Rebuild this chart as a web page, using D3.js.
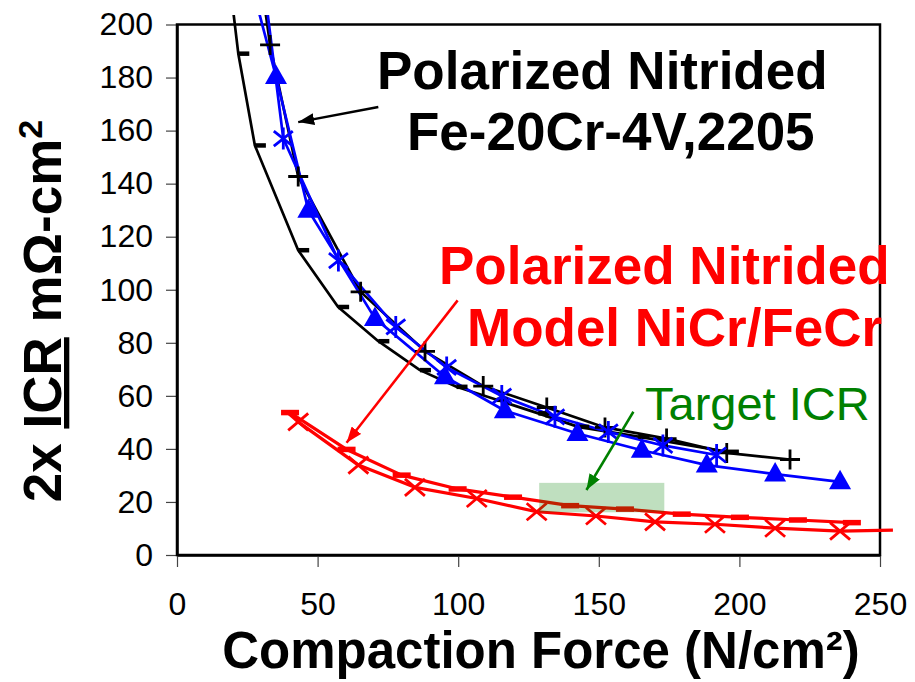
<!DOCTYPE html>
<html>
<head>
<meta charset="utf-8">
<script src="https://cdn.jsdelivr.net/npm/d3@7"></script>
<style>
  body { margin: 0; background: #fff; }
  svg { display: block; font-family: "Liberation Sans", Arial, sans-serif; }
</style>
</head>
<body>
<div id="chart-area"></div>
<script>
// values: x = compaction force (N/cm2), y = 2x ICR (mOhm-cm2)
const xTicks = [0, 50, 100, 150, 200, 250]
const yTicks = [0, 20, 40, 60, 80, 100, 120, 140, 160, 180, 200]

// Fe-20Cr-4V / 2205, black "+" and black "-"
const blackPlusX = [33.1, 43.1, 65.3, 88.2, 108.9, 131.5, 152.2, 174.1, 195.5, 218]
const blackPlusY = [192.3, 142.7, 99.2, 76.8, 63.7, 55.6, 48.1, 43.9, 38.5, 36]
const blackPlusTop = [28.4, 228]

const blackDashX = [21.8, 27.7, 43.1, 57.3, 71.6, 86.4, 99.4, 113.7, 128.5, 142.7, 164, 195.9]
const blackDashY = [189, 154.4, 114.9, 93.5, 80.6, 69.7, 63.4, 58.5, 53.4, 48.3, 44.6, 38.9]
const blackDashTop = [18.7, 216.6]

// blue triangles and blue asterisks
const blueTriX = [35.2, 46.7, 70.4, 95.3, 116.6, 142.4, 165.3, 188.4, 212.7, 235.8]
const blueTriY = [180.4, 130, 89.2, 67.2, 54.4, 45.8, 39.5, 33.9, 30.5, 27.6]
const blueTriTop = [23.3, 228]

const blueStarX = [37.8, 57.4, 77.8, 95.9, 115.5, 134.4, 153.4, 172.8, 191.9]
const blueStarY = [157, 111, 86, 70.7, 59.9, 52.1, 46.4, 41.3, 37.7]
const blueStarTop = [29.4, 228]

// model NiCr / FeCr, red "-" and red "x"
const redDashX = [40.2, 60.3, 79.9, 99.8, 119.5, 139.8, 159.3, 179.5, 200.2, 220.8, 240]
const redDashY = [53.7, 39.8, 30.1, 24.9, 21.8, 18.6, 17.3, 15.4, 14.2, 13.2, 12.2]

const redCrossX = [43.1, 64.5, 84.6, 106.6, 127.9, 149, 170, 191.3, 212.7, 235.8]
const redCrossY = [50.2, 33.9, 25.5, 21.3, 16.3, 14.7, 12.5, 11.6, 10.1, 9.0]
const redCrossStart = [40.2, 53.7]
const redCrossEnd = [254.6, 9.4]

// target ICR band
const targetX = [128.8, 173.3]
const targetY = [16.1, 27.2]

// arrows [x1, y1, x2(tip), y2(tip)]
const blackArrow = [71.6, 168.9, 43.1, 163.2]
const redArrow = [99.8, 96.0, 60.3, 42.3]
const greenArrow = [162.3, 54.0, 145.6, 24.5]

const zip = (xs, ys) => xs.map((x, i) => [x, ys[i]])

const margin = { left: 177, top: 24.5, right: 35, bottom: 127 }
const width = 915 - margin.left - margin.right
const height = 682 - margin.top - margin.bottom

const svg = d3.select('#chart-area').append('svg')
  .attr('width', 915)
  .attr('height', 682)

const defs = svg.append('defs')
defs.append('clipPath').attr('id', 'clip')
  .append('rect')
  .attr('x', -margin.left)
  .attr('y', 15 - margin.top)
  .attr('width', 915)
  .attr('height', 700)

const arrowColors = { black: '#000', red: '#ff0000', green: '#008000' }
Object.entries(arrowColors).forEach(([k, c]) => {
  defs.append('marker')
    .attr('id', 'head-' + k)
    .attr('viewBox', '0 -6 16 12')
    .attr('refX', 16)
    .attr('refY', 0)
    .attr('markerWidth', 16)
    .attr('markerHeight', 12)
    .attr('markerUnits', 'userSpaceOnUse')
    .attr('orient', 'auto')
    .append('path')
    .attr('d', 'M0,-6L16,0L0,6Z')
    .attr('fill', c)
})

const g = svg.append('g')
  .attr('transform', `translate(${margin.left},${margin.top})`)

const x = d3.scaleLinear().domain([0, 250]).range([0, width])
const y = d3.scaleLinear().domain([0, 200]).range([height, 0])

// axes
const xAxis = g.append('g')
  .attr('class', 'x-axis')
  .attr('transform', `translate(0, ${height})`)
  .call(d3.axisBottom(x).tickValues(xTicks).tickSize(12).tickSizeOuter(0))
xAxis.selectAll('text')
  .attr('y', 37)
  .attr('font-size', '32px')
  .attr('font-family', '"Liberation Sans", Arial, sans-serif')
  .attr('fill', '#000')

const yAxis = g.append('g')
  .attr('class', 'y-axis')
  .call(d3.axisLeft(y).tickValues(yTicks).tickSize(11).tickPadding(13).tickSizeOuter(0))
yAxis.selectAll('text')
  .attr('font-size', '32px')
  .attr('font-family', '"Liberation Sans", Arial, sans-serif')
  .attr('fill', '#000')

g.selectAll('.tick line').attr('stroke', '#444').attr('stroke-width', 1.2)
g.selectAll('.domain').attr('stroke', '#000').attr('stroke-width', 2.5)

// plot frame
g.append('rect')
  .attr('width', width)
  .attr('height', height)
  .attr('fill', 'none')
  .attr('stroke', '#000')
  .attr('stroke-width', 2.5)

const plot = g.append('g').attr('clip-path', 'url(#clip)')
const line = d3.line().x(d => x(d[0])).y(d => y(d[1]))

const drawLine = (pts, color, w) => {
  plot.append('path')
    .datum(pts)
    .attr('d', line)
    .attr('fill', 'none')
    .attr('stroke', color)
    .attr('stroke-width', w)
    .attr('stroke-linejoin', 'round')
}

drawLine([blackDashTop].concat(zip(blackDashX, blackDashY)), '#000', 2.7)
drawLine([blackPlusTop].concat(zip(blackPlusX, blackPlusY)), '#000', 2.7)
drawLine([blueTriTop].concat(zip(blueTriX, blueTriY)), '#0000ff', 2.7)
drawLine([blueStarTop].concat(zip(blueStarX, blueStarY)), '#0000ff', 2.7)
drawLine(zip(redDashX, redDashY), '#ff0000', 3.2)
drawLine([redCrossStart].concat(zip(redCrossX, redCrossY), [redCrossEnd]), '#ff0000', 3.2)

// markers
const drawSymbols = (pts, d, color, filled) => {
  plot.append('g').selectAll('path')
    .data(pts)
    .enter()
    .append('path')
    .attr('transform', p => `translate(${x(p[0])},${y(p[1])})`)
    .attr('d', d)
    .attr('fill', filled ? color : 'none')
    .attr('stroke', color)
    .attr('stroke-width', filled ? 0 : 2.8)
}

const drawDashes = (pts, color, w, h, dx) => {
  plot.append('g').selectAll('rect')
    .data(pts)
    .enter()
    .append('rect')
    .attr('x', p => x(p[0]) + dx)
    .attr('y', p => y(p[1]) - h / 2)
    .attr('width', w)
    .attr('height', h)
    .attr('fill', color)
}

drawDashes(zip(blackDashX, blackDashY), '#000', 11, 4.5, 0)
drawSymbols(zip(blackPlusX, blackPlusY), 'M-10,0H10M0,-10V10', '#000', false)
drawSymbols(zip(blueTriX, blueTriY), 'M0,-12L11,7.5H-11Z', '#0000ff', true)
drawSymbols(zip(blueStarX, blueStarY), 'M-9.5,-7.5L9.5,7.5M-9.5,7.5L9.5,-7.5M0,-11V11', '#0000ff', false)
drawDashes(zip(redDashX, redDashY), '#ff0000', 18, 5.5, -9)
drawSymbols(zip(redCrossX, redCrossY), 'M-10,-8.5L10,8.5M-10,8.5L10,-8.5', '#ff0000', false)

// target band, drawn over the red curves
g.append('rect')
  .attr('x', x(targetX[0]))
  .attr('y', y(targetY[1]))
  .attr('width', x(targetX[1]) - x(targetX[0]))
  .attr('height', y(targetY[0]) - y(targetY[1]))
  .attr('fill', '#008000')
  .attr('opacity', 0.25)

// arrows
const drawArrow = (a, color, key, w) => {
  g.append('line')
    .attr('x1', x(a[0])).attr('y1', y(a[1]))
    .attr('x2', x(a[2])).attr('y2', y(a[3]))
    .attr('stroke', color)
    .attr('stroke-width', w)
    .attr('marker-end', `url(#head-${key})`)
}
drawArrow(blackArrow, '#000', 'black', 2.5)
drawArrow(redArrow, '#ff0000', 'red', 2.5)
drawArrow(greenArrow, '#008000', 'green', 2.5)

// annotations
const note = (txt, px, py, color, weight, size) => {
  svg.append('text')
    .attr('x', px)
    .attr('y', py)
    .attr('fill', color)
    .attr('font-weight', weight)
    .attr('font-size', size)
    .text(txt)
}
note('Polarized Nitrided', 377, 89, '#000', 'bold', '53px')
note('Fe-20Cr-4V,2205', 407, 150, '#000', 'bold', '53px')
note('Polarized Nitrided', 439, 284, '#ff0000', 'bold', '53px')
note('Model NiCr/FeCr', 467, 346, '#ff0000', 'bold', '53px')
note('Target ICR', 645, 420, '#008000', 'normal', '47px')

// axis titles
svg.append('text')
  .attr('x', 541)
  .attr('y', 668)
  .attr('text-anchor', 'middle')
  .attr('font-size', '51px')
  .attr('font-weight', 'bold')
  .text('Compaction Force (N/cm²)')

const yTitle = svg.append('text')
  .attr('transform', 'translate(61, 311) rotate(-90)')
  .attr('text-anchor', 'middle')
  .attr('font-size', '53px')
  .attr('font-weight', 'bold')
yTitle.append('tspan').text('2x ')
yTitle.append('tspan').attr('text-decoration', 'underline').style('text-decoration', 'underline').text('ICR')
yTitle.append('tspan').text(' mΩ-cm')
yTitle.append('tspan').attr('font-size', '34px').attr('baseline-shift', 'super').text('2')
</script>
</body>
</html>
